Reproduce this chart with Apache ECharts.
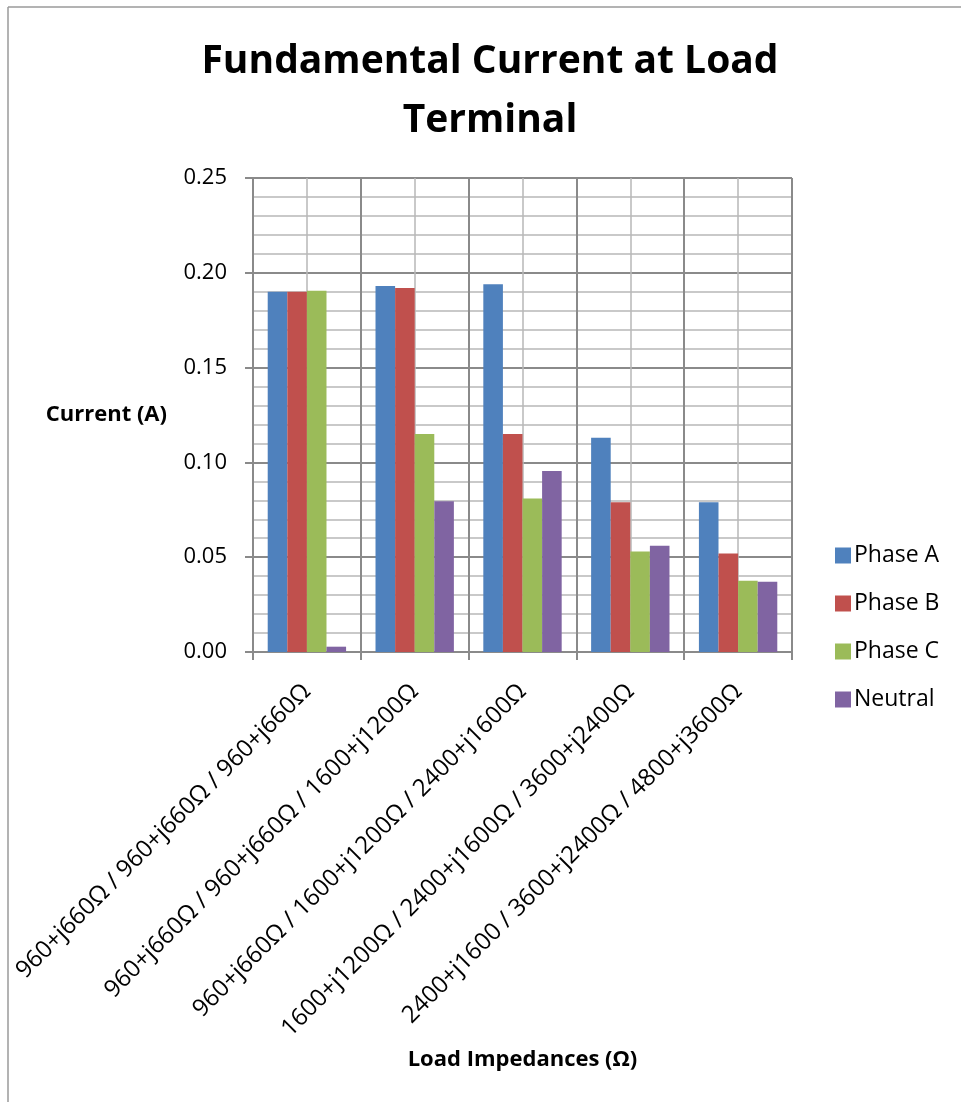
<!DOCTYPE html>
<html>
<head>
<meta charset="utf-8">
<script src="https://cdn.jsdelivr.net/npm/echarts@6/dist/echarts.min.js"></script>
<style>
html,body{margin:0;padding:0;background:#fff;}
#chart{width:961px;height:1102px;}
</style>
</head>
<body>
<div id="chart"></div>
<script>
var categories = [
  '960+j660Ω / 960+j660Ω / 960+j660Ω',
  '960+j660Ω / 960+j660Ω / 1600+j1200Ω',
  '960+j660Ω / 1600+j1200Ω / 2400+j1600Ω',
  '1600+j1200Ω / 2400+j1600Ω / 3600+j2400Ω',
  '2400+j1600 / 3600+j2400Ω / 4800+j3600Ω'
];
var phaseA = [0.190, 0.193, 0.194, 0.113, 0.079];
var phaseB = [0.190, 0.192, 0.115, 0.079, 0.052];
var phaseC = [0.1905, 0.115, 0.081, 0.053, 0.0376];
var neutral = [0.0028, 0.0795, 0.0954, 0.056, 0.037];
var yTicks = [0, 0.05, 0.10, 0.15, 0.20, 0.25];

var FONT = '"Open Sans", "Liberation Sans", sans-serif';
var MAJOR = '#8a8a8a';
var MINOR = '#b8b8b8';

var chart = echarts.init(document.getElementById('chart'), null, {renderer: 'canvas'});
var seriesNames = ['Phase A', 'Phase B', 'Phase C', 'Neutral'];
var seriesData = [phaseA, phaseB, phaseC, neutral];
var colors = ['#4F81BD', '#C0504D', '#9BBB59', '#8064A2'];

chart.setOption({
  animation: false,
  backgroundColor: '#ffffff',
  color: colors,
  textStyle: {fontFamily: FONT},
  title: {
    text: 'Fundamental Current at Load\nTerminal',
    left: 485,
    textAlign: 'center',
    top: 27,
    textStyle: {fontFamily: FONT, fontSize: 39, fontWeight: 'bold', color: '#000', lineHeight: 59}
  },
  legend: {
    orient: 'vertical',
    left: 830,
    top: 539,
    itemWidth: 16,
    itemHeight: 16,
    itemGap: 25,
    icon: 'rect',
    textStyle: {fontFamily: FONT, fontSize: 23, color: '#000', padding: [0,0,0,-2]},
    data: seriesNames
  },
  grid: {left: 253, right: 169, top: 178, bottom: 450, containLabel: false},
  xAxis: [{
    type: 'category',
    data: categories,
    boundaryGap: true,
    axisLine: {show: true, lineStyle: {color: MAJOR, width: 2}},
    axisTick: {show: true, length: 8, lineStyle: {color: MAJOR, width: 2}},
    axisLabel: {rotate: 45, margin: 36, fontFamily: FONT, fontSize: 24, color: '#000', interval: 0},
    splitLine: {show: false},
    name: 'Load Impedances (Ω)',
    nameLocation: 'middle',
    nameGap: 397,
    nameTextStyle: {fontFamily: FONT, fontSize: 22, fontWeight: 'bold', color: '#000'}
  }, {
    type: 'value',
    min: 0, max: 5, interval: 1,
    position: 'top',
    axisLine: {show: false},
    axisTick: {show: false},
    axisLabel: {show: false},
    splitLine: {show: true, lineStyle: {color: MAJOR, width: 2}},
    minorTick: {show: false, splitNumber: 2},
    minorSplitLine: {show: true, lineStyle: {color: MINOR, width: 1.5}}
  }],
  yAxis: {
    type: 'value',
    min: yTicks[0],
    max: yTicks[yTicks.length - 1],
    interval: 0.05,
    axisLine: {show: true, lineStyle: {color: MAJOR, width: 2}},
    axisTick: {show: true, length: 8, lineStyle: {color: MAJOR, width: 2}},
    axisLabel: {
      fontFamily: FONT, fontSize: 22, color: '#000', margin: 26,
      formatter: function (v) { return v.toFixed(2); }
    },
    splitLine: {show: true, lineStyle: {color: MAJOR, width: 2}},
    minorTick: {show: false, splitNumber: 5},
    minorSplitLine: {show: true, lineStyle: {color: MINOR, width: 1.5}},
    name: 'Current (A)',
    nameLocation: 'middle',
    nameRotate: 0,
    nameGap: 86,
    nameTextStyle: {fontFamily: FONT, fontSize: 22, fontWeight: 'bold', color: '#000'}
  },
  graphic: [
    {type: 'line', shape: {x1: 8, y1: 7, x2: 961, y2: 7}, style: {stroke: '#9a9a9a', lineWidth: 1.5}, silent: true},
    {type: 'line', shape: {x1: 8, y1: 7, x2: 8, y2: 1102}, style: {stroke: '#9a9a9a', lineWidth: 1.5}, silent: true}
  ],
  series: seriesNames.map(function (n, i) {
    return {
      name: n,
      type: 'bar',
      xAxisIndex: 0,
      data: seriesData[i],
      barGap: '0%',
      barCategoryGap: '27.3%',
      itemStyle: {color: colors[i]}
    };
  })
});
</script>
</body>
</html>
